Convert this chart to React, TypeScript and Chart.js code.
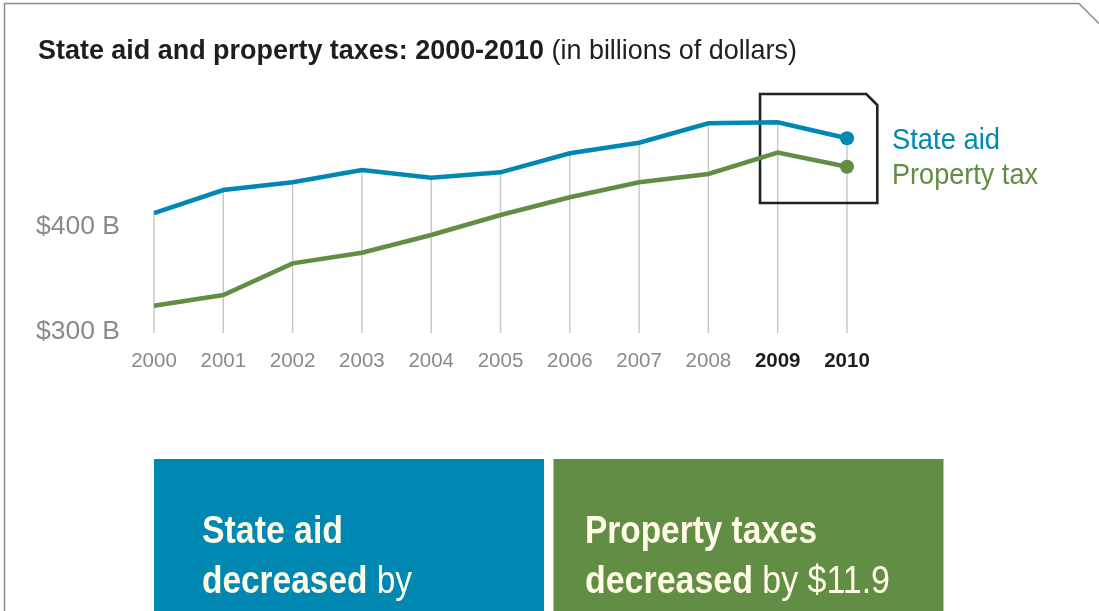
import React, { useEffect, useRef } from 'react';
import { Chart, registerables } from 'chart.js';

Chart.register(...registerables);

// ---- data ----
const years = ['2000', '2001', '2002', '2003', '2004', '2005', '2006', '2007', '2008', '2009', '2010'];
const stateAid = [413.3, 435.2, 442.6, 454.3, 447.0, 452.1, 470.2, 480.3, 498.8, 499.7, 484.5];
const propertyTax = [325.0, 335.2, 365.4, 375.5, 392.4, 411.4, 428.3, 442.6, 450.5, 470.8, 457.4];
const yTickValues = [300, 400];
const highlightYears = ['2009', '2010'];
const seriesNames = ['State aid', 'Property tax'];

// ---- styles ----
const BLUE = '#0088b3';
const GREEN = '#628d44';
const CREAM = '#fffbe6';
const GRAY = '#8a8a8a';
const DARK = '#1e1e1e';
const FONT = "'Liberation Sans', Arial, Helvetica, sans-serif";

// annotation box around 2009-2010 (index / value space)
const ANNO = { fromIdx: 8.745, toIdx: 10.437, topVal: 526.7, bottomVal: 422.9, cut: 11 };

const dropLinesPlugin = {
  id: 'dropLines',
  beforeDatasetsDraw(chart: any) {
    const { ctx, chartArea, scales } = chart;
    const x = scales.x;
    const y = scales.y;
    ctx.save();
    ctx.strokeStyle = '#c6c6c6';
    ctx.lineWidth = 1.4;
    stateAid.forEach((v, i) => {
      const px = x.getPixelForValue(i);
      ctx.beginPath();
      ctx.moveTo(px, y.getPixelForValue(v));
      ctx.lineTo(px, chartArea.bottom + 1);
      ctx.stroke();
    });
    // annotation frame
    const L = x.getPixelForValue(ANNO.fromIdx);
    const R = x.getPixelForValue(ANNO.toIdx);
    const T = y.getPixelForValue(ANNO.topVal);
    const B = y.getPixelForValue(ANNO.bottomVal);
    ctx.strokeStyle = '#222';
    ctx.lineWidth = 2.6;
    ctx.lineJoin = 'miter';
    ctx.beginPath();
    ctx.moveTo(L, B);
    ctx.lineTo(L, T);
    ctx.lineTo(R - ANNO.cut, T);
    ctx.lineTo(R, T + ANNO.cut);
    ctx.lineTo(R, B);
    ctx.closePath();
    ctx.stroke();
    ctx.restore();
  },
};

function lastPointRadius(n: number, r: number) {
  return Array.from({ length: n }, (_, i) => (i === n - 1 ? r : 0));
}

export default function App() {
  const canvasRef = useRef<HTMLCanvasElement | null>(null);

  useEffect(() => {
    if (!canvasRef.current) return;
    const chart = new Chart(canvasRef.current, {
      type: 'line',
      data: {
        labels: years,
        datasets: [
          {
            label: seriesNames[0],
            data: stateAid,
            borderColor: BLUE,
            backgroundColor: BLUE,
            borderWidth: 4.5,
            pointRadius: lastPointRadius(years.length, 7),
            pointBorderWidth: 0,
            pointBackgroundColor: BLUE,
            tension: 0,
            fill: false,
          },
          {
            label: seriesNames[1],
            data: propertyTax,
            borderColor: GREEN,
            backgroundColor: GREEN,
            borderWidth: 4.5,
            pointRadius: lastPointRadius(years.length, 7),
            pointBorderWidth: 0,
            pointBackgroundColor: GREEN,
            tension: 0,
            fill: false,
          },
        ],
      },
      options: {
        responsive: false,
        animation: false,
        events: [],
        layout: { padding: { left: 0, top: 101, right: 252, bottom: 239 } },
        plugins: {
          legend: { display: false },
          tooltip: { enabled: false },
          title: { display: false },
        },
        scales: {
          x: {
            type: 'category',
            offset: false,
            grid: { display: false, drawTicks: false },
            border: { display: false },
            ticks: {
              autoSkip: false,
              maxRotation: 0,
              padding: 17,
              color: (c: any) => (highlightYears.includes(years[c.index]) ? DARK : GRAY),
              font: (c: any) => ({
                family: FONT,
                size: 20.5,
                weight: highlightYears.includes(years[c.index]) ? 'bold' : 'normal',
              }),
            },
            afterFit: (s: any) => {
              s.height = 40;
            },
          },
          y: {
            min: 300,
            max: 520,
            grid: { display: false, drawTicks: false },
            border: { display: false },
            afterBuildTicks: (s: any) => {
              s.ticks = yTickValues.map((v) => ({ value: v }));
            },
            ticks: {
              padding: 34,
              color: GRAY,
              font: { family: FONT, size: 26.5 },
              callback: (v: any) => `$${v} B`,
            },
            afterFit: (s: any) => {
              s.width = 154;
            },
          },
        },
      },
      plugins: [dropLinesPlugin],
    });
    return () => chart.destroy();
  }, []);

  return (
    <div
      style={{
        position: 'fixed',
        left: 0,
        top: 0,
        width: 1099,
        height: 611,
        overflow: 'hidden',
        background: '#fff',
      }}
    >
      <canvas
        ref={canvasRef}
        width={1099}
        height={611}
        style={{ position: 'absolute', left: 0, top: 0, width: 1099, height: 611, display: 'block' }}
      />
      <svg
        width={1099}
        height={611}
        style={{ position: 'absolute', left: 0, top: 0, pointerEvents: 'none' }}
        fontFamily={FONT}
      >
        <path d="M4.5 611 V3.5 H1079 L1099 23.5" fill="none" stroke="#8c8c8c" strokeWidth={1.5} />
        <text x={38} y={59} fontSize={28.5} fill={DARK} textLength={759} lengthAdjust="spacingAndGlyphs">
          <tspan fontWeight="bold">State aid and property taxes: 2000-2010</tspan>
          <tspan> (in billions of dollars)</tspan>
        </text>

        <text x={892} y={149.3} fontSize={29} fill={BLUE} textLength={108} lengthAdjust="spacingAndGlyphs">
          {seriesNames[0]}
        </text>
        <text x={892} y={183.5} fontSize={29} fill={GREEN} textLength={146} lengthAdjust="spacingAndGlyphs">
          {seriesNames[1]}
        </text>

        <rect x={154} y={459} width={390} height={160} fill={BLUE} />
        <rect x={553.5} y={459} width={390} height={160} fill={GREEN} />

        <text x={202} y={543.3} fontSize={39.5} fontWeight="bold" fill={CREAM} textLength={141} lengthAdjust="spacingAndGlyphs">
          State aid
        </text>
        <text x={202} y={592.7} fontSize={39.5} fill={CREAM} textLength={210} lengthAdjust="spacingAndGlyphs">
          <tspan fontWeight="bold">decreased</tspan>
          <tspan> by</tspan>
        </text>

        <text x={585} y={543.3} fontSize={39.5} fontWeight="bold" fill={CREAM} textLength={232} lengthAdjust="spacingAndGlyphs">
          Property taxes
        </text>
        <text x={585} y={592.7} fontSize={39.5} fill={CREAM} textLength={305} lengthAdjust="spacingAndGlyphs">
          <tspan fontWeight="bold">decreased</tspan>
          <tspan> by $11.9</tspan>
        </text>
      </svg>
    </div>
  );
}
